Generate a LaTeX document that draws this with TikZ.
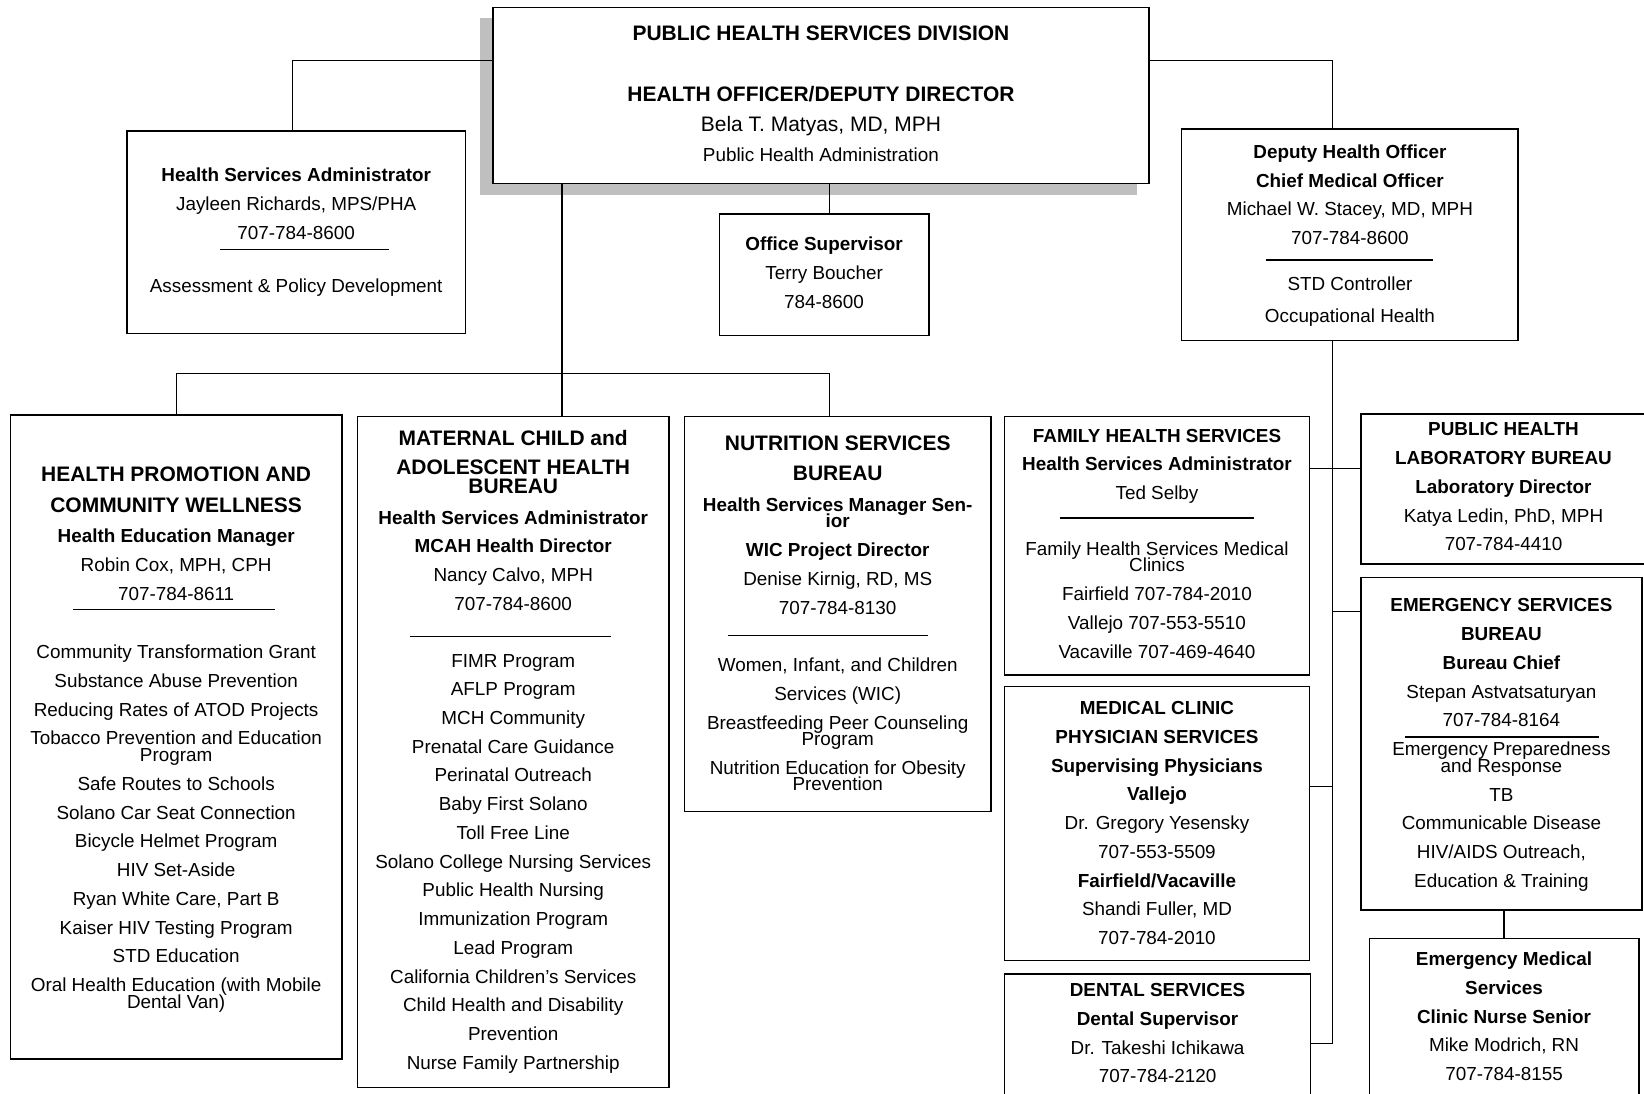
\documentclass[tikz,border=0pt]{standalone}
\usepackage{fontspec}
\setmainfont{Liberation Sans}
\usetikzlibrary{positioning, fit}

\newcommand{\bureau}[1]{{\fontsize{10}{12}\selectfont\bfseries #1}}

\begin{document}
\begin{tikzpicture}[x=0.5pt, y=-0.5pt, font=\fontsize{9}{13.7}\selectfont,
        unit/.style={draw, line width=0.7pt, inner sep=0pt, fill=white},
        txt/.style={inner sep=0pt, align=center},
        link/.style={line width=0.6pt},
        rulebar/.style={line width=0.6pt}]
        % Define colors
        \definecolor{shadowgray}{rgb}{0.75, 0.75, 0.75}

        \useasboundingbox (0,0) rectangle (1568,1043);
        \clip (0,0) rectangle (1568,1043);

        % Nodes
        \fill[shadowgray] (458,17) rectangle (1084,186);
        \node[unit, fit={(470,7) (1096,175)}] (div) {};
        \node[unit, fit={(121,125) (444,318)}] (hsa) {};
        \node[unit, fit={(686,204) (886,320)}] (office) {};
        \node[unit, fit={(1127,123) (1448,325)}] (dho) {};
        \node[unit, fit={(10,396) (326,1010)}] (hpcw) {};
        \node[unit, fit={(341,397) (638,1037)}] (mcah) {};
        \node[unit, fit={(653,397) (945,774)}] (nutr) {};
        \node[unit, fit={(958,397) (1249,644)}] (fhs) {};
        \node[unit, fit={(958,655) (1249,916)}] (mcps) {};
        \node[unit, fit={(958,929) (1250,1070)}] (dental) {};
        \node[unit, fit={(1298,395) (1570,538)}] (phlab) {};
        \node[unit, fit={(1298,551) (1566,868)}] (esb) {};
        \node[unit, fit={(1306,895) (1563,1070)}] (ems) {};

        % Texts
        \node[txt, below=8.9pt of div.north] (divtxt) {\bureau{PUBLIC HEALTH SERVICES DIVISION}\\[15.3pt]
            \bureau{HEALTH OFFICER/DEPUTY DIRECTOR}\\[0.8pt]
            {\fontsize{10}{12}\selectfont Bela T. Matyas, MD, MPH}\\[0.8pt]
            Public Health Administration};
        \node[txt, below=17.7pt of hsa.north] (hsatxt) {\textbf{Health Services Administrator}\\[0.3pt]
            Jayleen Richards, MPS/PHA\\[-0.2pt]
            707-784-8600\\[11.8pt]
            Assessment \& Policy Development};
        \node[txt, below=11.2pt of office.north] (officetxt) {\textbf{Office Supervisor}\\
            Terry Boucher\\
            784-8600};
        \node[txt, below=7.7pt of dho.north] (dhotxt) {\textbf{Deputy Health Officer}\\
            \textbf{Chief Medical Officer}\\
            Michael W. Stacey, MD, MPH\\
            707-784-8600\\[8.3pt]
            STD Controller\\[1.3pt]
            Occupational Health};
        \node[txt, below=24.9pt of hpcw.north] (hpcwtxt) {\bureau{HEALTH PROMOTION AND}\\[0.8pt]
            \bureau{COMMUNITY WELLNESS}\\[0.8pt]
            \textbf{Health Education Manager}\\
            Robin Cox, MPH, CPH\\
            707-784-8611\\[14.3pt]
            Community Transformation Grant\\
            Substance Abuse Prevention\\
            Reducing Rates of ATOD Projects\\
            Tobacco Prevention and Education\\[-5.7pt]
            Program\\
            Safe Routes to Schools\\
            Solano Car Seat Connection\\
            Bicycle Helmet Program\\
            HIV Set-Aside\\
            Ryan White Care, Part B\\
            Kaiser HIV Testing Program\\
            STD Education\\
            Oral Health Education (with Mobile\\[-5.7pt]
            Dental Van)};
        \node[txt, below=6.9pt of mcah.north] (mcahtxt) {\bureau{MATERNAL CHILD and}\\[0.3pt]
            \bureau{ADOLESCENT HEALTH}\\[-4.7pt]
            \bureau{BUREAU}\\[0.8pt]
            \textbf{Health Services Administrator}\\
            \textbf{MCAH Health Director}\\
            Nancy Calvo, MPH\\
            707-784-8600\\[13.3pt]
            FIMR Program\\
            AFLP Program\\
            MCH Community\\
            Prenatal Care Guidance\\
            Perinatal Outreach\\
            Baby First Solano\\
            Toll Free Line\\
            Solano College Nursing Services\\
            Public Health Nursing\\
            Immunization Program\\
            Lead Program\\
            California Children’s Services\\
            Child Health and Disability\\
            Prevention\\
            Nurse Family Partnership};
        \node[txt, below=9.4pt of nutr.north] (nutrtxt) {\bureau{NUTRITION SERVICES}\\[0.8pt]
            \bureau{BUREAU}\\[0.8pt]
            \textbf{Health Services Manager Sen-}\\[-5.7pt]
            \textbf{ior}\\
            \textbf{WIC Project Director}\\
            Denise Kirnig, RD, MS\\
            707-784-8130\\[13.8pt]
            Women, Infant, and Children\\
            Services (WIC)\\
            Breastfeeding Peer Counseling\\[-5.7pt]
            Program\\
            Nutrition Education for Obesity\\[-6.2pt]
            Prevention};
        \node[txt, below=6.2pt of fhs.north] (fhstxt) {\textbf{FAMILY HEALTH SERVICES}\\
            \textbf{Health Services Administrator}\\
            Ted Selby\\[12.8pt]
            Family Health Services Medical\\[-5.7pt]
            Clinics\\
            Fairfield 707-784-2010\\
            Vallejo 707-553-5510\\
            Vacaville 707-469-4640};
        \node[txt, below=7.2pt of mcps.north] (mcpstxt) {\textbf{MEDICAL CLINIC}\\
            \textbf{PHYSICIAN SERVICES}\\
            \textbf{Supervising Physicians}\\
            \textbf{Vallejo}\\
            Dr. Gregory Yesensky\\
            707-553-5509\\
            \textbf{Fairfield/Vacaville}\\
            Shandi Fuller, MD\\
            707-784-2010};
        \node[txt, below=4.7pt of dental.north] (dentaltxt) {\textbf{DENTAL SERVICES}\\
            \textbf{Dental Supervisor}\\
            Dr. Takeshi Ichikawa\\
            707-784-2120};
        \node[txt, below=4.2pt of phlab.north] (phlabtxt) {\textbf{PUBLIC HEALTH}\\
            \textbf{LABORATORY BUREAU}\\
            \textbf{Laboratory Director}\\
            Katya Ledin, PhD, MPH\\
            707-784-4410};
        \node[txt, below=10.2pt of esb.north] (esbtxt) {\textbf{EMERGENCY SERVICES}\\
            \textbf{BUREAU}\\
            \textbf{Bureau Chief}\\
            Stepan Astvatsaturyan\\
            707-784-8164\\
            Emergency Preparedness\\[-5.7pt]
            and Response\\
            TB\\
            Communicable Disease\\
            HIV/AIDS Outreach,\\
            Education \& Training};
        \node[txt, below=6.7pt of ems.north] (emstxt) {\textbf{Emergency Medical}\\
            \textbf{Services}\\
            \textbf{Clinic Nurse Senior}\\
            Mike Modrich, RN\\
            707-784-8155};

        % Rules
        \draw[rulebar] (210,238) -- (371,238);
        \draw[rulebar] (1207,248) -- (1367,248);
        \draw[rulebar] (70,581) -- (262,581);
        \draw[rulebar] (391,607) -- (583,607);
        \draw[rulebar] (694,606) -- (885,606);
        \draw[rulebar] (1011,494) -- (1196,494);
        \draw[rulebar] (1340,703) -- (1525,703);

        % Edges
        \coordinate (jhsa) at (279,58);
        \coordinate (jdho) at (1271,58);
        \coordinate (joffice) at (791,190);
        \coordinate (busmid) at (536,356);
        \coordinate (busright) at (791,356);
        \coordinate (jlab) at (1271,447);
        \coordinate (jesb) at (1271,583);
        \coordinate (jmcps) at (1271,750);
        \coordinate (jdental) at (1271,995);

        \draw[link] (div.west |- jhsa) -- (jhsa) -- (jhsa |- hsa.north);
        \draw[link] (div.east |- jdho) -- (jdho) -- (jdho |- dho.north);
        \draw[link] (div.south -| joffice) -- (office.north -| joffice);
        \draw[link] (div.south -| busmid) -- (mcah.north -| busmid);
        \draw[link] (hpcw.north) |- (busright) -- (nutr.north -| busright);
        \draw[link] (dho.south -| jdental) -- (jdental) -- (dental.east |- jdental);
        \draw[link] (fhs.east |- jlab) -- (phlab.west |- jlab);
        \draw[link] (jesb) -- (esb.west |- jesb);
        \draw[link] (mcps.east |- jmcps) -- (jmcps);
        \draw[link] (esb.south -| ems.north) -- (ems.north);
    \end{tikzpicture}
\end{document}
